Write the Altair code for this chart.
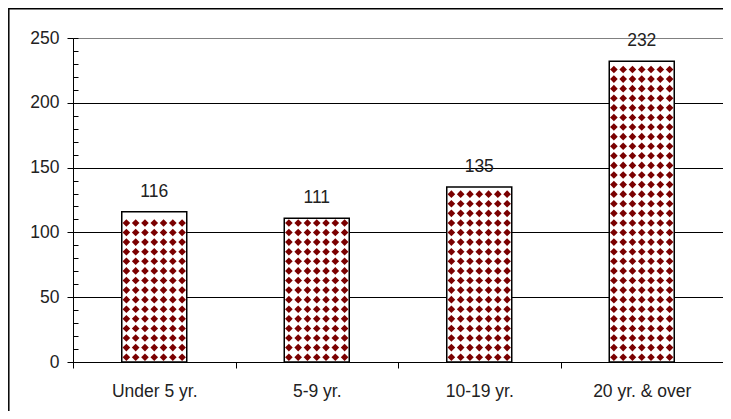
import altair as alt
import pandas as pd

# ---- data ----
categories = ["Under 5 yr.", "5-9 yr.", "10-19 yr.", "20 yr. & over"]
values = [116, 111, 135, 232]
y_major = [0, 50, 100, 150, 200, 250]
y_minor = [0, 10, 20, 30, 40, 50, 60, 70, 80, 90, 100, 110, 120, 130, 140,
           150, 160, 170, 180, 190, 200, 210, 220, 230, 240, 250]

df = pd.DataFrame({"cat": categories, "value": values,
                   "idx": list(range(len(categories)))})

FONT = "Liberation Sans"
TXT = "#222222"
FS = 17.5
W, H = 650, 324

yscale = alt.Scale(domain=[0, 250], nice=False, zero=True)

xband = alt.X(
    "cat:N", sort=categories,
    scale=alt.Scale(paddingInner=0, paddingOuter=0),
    axis=alt.Axis(title=None, labelAngle=0, tickBand="extent", tickSize=6,
                  tickColor="black", domainColor="black", domainWidth=1,
                  labelFont=FONT, labelFontSize=FS, labelColor=TXT,
                  labelPadding=14, grid=False),
)

bars = alt.Chart(df).mark_bar(
    width=alt.RelativeBandSize(0.4), fill="white", stroke="black", strokeWidth=1.5
).encode(
    x=xband,
    y=alt.Y("value:Q", scale=yscale, axis=alt.Axis(
        title=None, values=y_major, orient="left", tickSize=6, tickColor="black",
        domainColor="black", domainWidth=1, labelFont=FONT, labelFontSize=FS,
        labelColor=TXT, labelPadding=8, grid=True, gridWidth=1,
        gridColor={"condition": {"test": "datum.value >= 250", "value": "#808080"},
                   "value": "black"},
    )),
)

# diamond fill texture of the bars
pattern = alt.Chart(df).transform_calculate(
    col="sequence(0, 7)",
    row="sequence(3.7, datum.value - 3, 7.4)",
).transform_flatten(["col"]).transform_flatten(["row"]).transform_calculate(
    px="datum.idx + 0.5 + (datum.col - 3) * 0.4 / 7"
).mark_point(shape="diamond", filled=True, size=58, color="#7a0000", opacity=1,
             strokeWidth=0).encode(
    x=alt.X("px:Q", scale=alt.Scale(domain=[0, 4], nice=False, zero=False), axis=None),
    y=alt.Y("row:Q", scale=yscale, axis=None),
)

labels = alt.Chart(df).mark_text(
    baseline="alphabetic", dy=-15, font=FONT, fontSize=FS, color=TXT
).encode(
    x=alt.X("cat:N", sort=categories,
            scale=alt.Scale(paddingInner=0, paddingOuter=0), axis=None),
    y=alt.Y("value:Q", scale=yscale, axis=alt.Axis(
        title=None, values=y_minor, orient="left", tickSize=5, offset=-5,
        tickColor="black", labels=False, domain=False, grid=False)),
    text="value:Q",
)

frame = alt.Chart(alt.Data(values=[{}])).mark_rect(
    fill="transparent", stroke="black", strokeWidth=1.5, clip=False
).encode(
    x=alt.value(-64.2), x2=alt.value(700), y=alt.value(-29.3), y2=alt.value(420)
)

chart = alt.layer(bars, pattern, labels, frame).resolve_scale(
    x="independent", y="shared"
).resolve_axis(y="independent", x="independent").properties(
    width=W, height=H,
    autosize=alt.AutoSizeParams(type="none"),
    padding={"left": 65, "top": 30, "right": 0, "bottom": 49},
    background="white",
).configure_view(stroke="#808080", strokeWidth=1)

chart.save("out.html", embed_options={"renderer": "svg", "actions": False})
